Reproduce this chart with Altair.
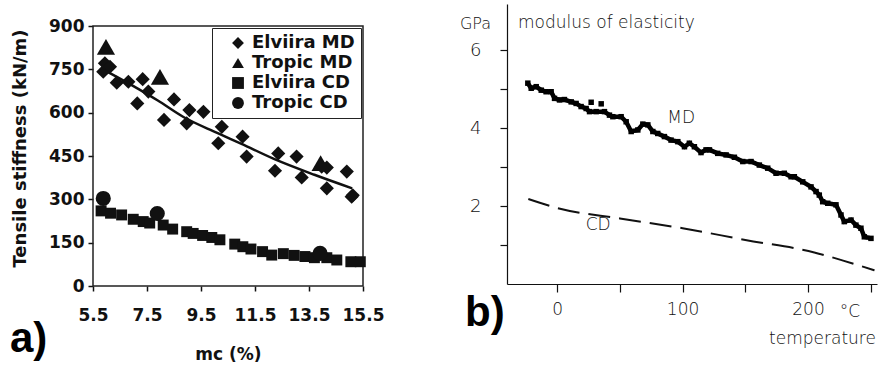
import altair as alt
import pandas as pd

# ---------------- panel a) data ----------------
elv_md_mc = [5.88, 5.94, 6.13, 6.38, 6.81, 7.14, 7.34, 7.55, 8.13, 8.50, 8.97, 9.07, 9.59,
             10.14, 10.27, 11.04, 11.19, 12.24, 12.36, 13.04, 13.23, 13.97, 14.16, 14.16,
             14.90, 15.08, 15.12]
elv_md_k = [742, 771, 759, 704, 707, 632, 716, 673, 575, 646, 563, 609, 603,
            494, 551, 517, 448, 399, 459, 448, 376, 413, 338, 410,
            396, 309, 314]
trop_md_mc = [5.98, 7.98, 13.93]
trop_md_k = [828, 724, 425]
elv_cd_mc = [5.80, 6.15, 6.56, 6.99, 7.36, 7.60, 8.10, 8.45, 8.97, 9.21, 9.56, 9.90, 10.20,
             10.75, 11.05, 11.35, 11.78, 12.12, 12.55, 12.95, 13.35, 13.70, 14.16, 14.53,
             15.05, 15.40]
elv_cd_k = [260, 252, 246, 231, 223, 218, 211, 197, 188, 182, 175, 168, 160,
            145, 136, 128, 119, 107, 112, 106, 102, 98, 98, 90,
            84, 84]
trop_cd_mc = [5.88, 7.88, 13.91]
trop_cd_k = [303, 251, 113]
fit_mc = [5.9, 6.9, 7.9, 8.85, 10.1, 11.0, 12.2, 13.7, 15.1]
fit_k = [748, 697, 642, 585, 530, 492, 440, 385, 338]
series_names = ["Elviira MD", "Tropic MD", "Elviira CD", "Tropic CD"]
series_shapes = ["diamond", "triangle-up", "square", "circle"]
a_xticks = [5.5, 7.5, 9.5, 11.5, 13.5, 15.5]
a_yticks = [0, 150, 300, 450, 600, 750, 900]
a_frame = {"x0": [5.5], "x1": [15.5], "y0": [0], "y1": [900]}

# ---------------- panel b) data ----------------
md_temp = [-23.4, -20.7, -16.7, -12.7, -8.8, -4.8, -2.1, 1.9, 5.8, 11.2, 15.1, 19.1, 23.1,
           25.8, 31.1, 37.7, 41.7, 44.4, 51.0, 55.0, 59.0, 64.3, 68.3, 72.3, 76.3, 80.2,
           85.5, 90.8, 96.2, 101.5, 105.4, 109.4, 114.7, 118.7, 121.4, 128.0, 134.7, 141.3,
           148.0, 154.6, 161.2, 167.9, 174.5, 181.1, 186.5, 189.1, 195.8, 202.4, 206.4,
           209.0, 211.7, 215.7, 222.3, 226.3, 228.9, 234.3, 238.2, 242.2, 244.9, 250.2]
md_gpa = [5.15, 5.02, 5.06, 4.97, 4.93, 4.93, 4.76, 4.72, 4.73, 4.67, 4.63, 4.55, 4.50,
          4.42, 4.42, 4.42, 4.33, 4.29, 4.29, 4.16, 3.91, 3.95, 4.10, 4.08, 3.91, 3.86,
          3.78, 3.69, 3.65, 3.52, 3.61, 3.52, 3.37, 3.44, 3.44, 3.35, 3.31, 3.25,
          3.14, 3.14, 3.05, 2.97, 2.84, 2.84, 2.75, 2.75, 2.62, 2.49, 2.37,
          2.28, 2.11, 2.07, 2.03, 1.77, 1.60, 1.64, 1.51, 1.43, 1.21, 1.17]
md_out_temp = [27.1, 35.1]
md_out_gpa = [4.66, 4.62]
cd_temp = [-23, 0, 50, 100, 150, 205, 228, 253]
cd_gpa = [2.18, 1.95, 1.68, 1.43, 1.13, 0.81, 0.60, 0.35]
b_xticks = [0, 50, 100, 150, 200, 250]
b_yticks = [1, 2, 3, 4, 5, 6]
b_labels = {"t": [98.8, 32.7], "g": [4.26, 1.51], "txt": ["MD", "CD"]}

FA = "DejaVu Sans"
FB = "DejaVu Sans"
WB = 200
INK = "#111111"
GREY = "#111111"

# ---------------- panel a ----------------
xa_scale = alt.Scale(domain=[5.5, 15.5], nice=False, zero=False)
ya_scale = alt.Scale(domain=[0, 976.2], nice=False)
xa_axis = alt.Axis(values=a_xticks, format=".1f", title="mc (%)", grid=False, domain=False,
                   tickColor=INK, tickSize=5, tickWidth=1.5, labelFont=FA, labelFontSize=17,
                   labelFontWeight="bold", labelColor=INK, labelPadding=16,
                   labelOverlap=False, labelBound=False, labelFlush=False,
                   titleFont=FA, titleFontSize=17, titleFontWeight="bold", titleColor=INK,
                   titleY=68, titleBaseline="middle")
ya_axis = alt.Axis(values=a_yticks, title="Tensile stiffness (kN/m)", grid=False, domain=False,
                   tickColor=INK, tickSize=5, tickWidth=1.5, labelFont=FA, labelFontSize=17,
                   labelFontWeight="bold", labelColor=INK, labelPadding=4,
                   labelOverlap=False,
                   titleFont=FA, titleFontSize=18, titleFontWeight="bold", titleColor=INK,
                   titleAngle=270, titleX=-73, titleY=144, titleAlign="center",
                   titleBaseline="middle")


def xa(field="mc"):
    return alt.X(f"{field}:Q", scale=xa_scale, axis=xa_axis)


def ya(field="k"):
    return alt.Y(f"{field}:Q", scale=ya_scale, axis=ya_axis)


shape_scale = alt.Scale(domain=series_names, range=series_shapes)
legend_a = alt.Legend(orient="none", legendX=119, legendY=24, title=None,
                      strokeColor="#222222", fillColor="white", padding=6,
                      symbolOffset=11, symbolSize=140, symbolFillColor=INK,
                      symbolStrokeColor=INK, labelFont=FA, labelFontSize=18,
                      labelFontWeight="bold", labelColor=INK, labelOffset=5,
                      rowPadding=2, labelLimit=400,
                      labelExpr="datum.label + '\u00a0\u00a0\u00a0'")

frame = alt.Chart(pd.DataFrame(a_frame)).mark_rect(
    fill=None, stroke="#222222", strokeWidth=1.5
).encode(x=xa("x0"), x2="x1:Q", y=ya("y0"), y2="y1:Q")

fit = alt.Chart(pd.DataFrame({"mc": fit_mc, "k": fit_k})).mark_line(
    color=INK, strokeWidth=2.5, interpolate="monotone"
).encode(x=xa(), y=ya())


def pts(mcs, ks, name, size):
    df = pd.DataFrame({"mc": mcs, "k": ks, "series": [name] * len(mcs)})
    return alt.Chart(df).mark_point(filled=True, color=INK, opacity=1, size=size).encode(
        x=xa(), y=ya(),
        shape=alt.Shape("series:N", scale=shape_scale, legend=legend_a))


p_emd = pts(elv_md_mc, elv_md_k, "Elviira MD", 200)
p_ecd = pts(elv_cd_mc, elv_cd_k, "Elviira CD", 120)
p_tmd = pts(trop_md_mc, trop_md_k, "Tropic MD", 330)
p_tcd = pts(trop_cd_mc, trop_cd_k, "Tropic CD", 230)

lab_a = alt.Chart(pd.DataFrame({"t": ["a)"]})).mark_text(
    font="Liberation Sans", fontSize=42, fontWeight="bold", color="black",
    align="left", baseline="alphabetic"
).encode(x=alt.value(-83), y=alt.value(348), text="t:N")

panel_a = alt.layer(frame, fit, p_emd, p_ecd, p_tmd, p_tcd, lab_a).properties(
    width=270, height=282)

# ---------------- panel b ----------------
xb_scale = alt.Scale(domain=[-40, 255], nice=False, zero=False)
yb_scale = alt.Scale(domain=[0, 7.18], nice=False)
xb_axis = alt.Axis(values=b_xticks, labelExpr="datum.value % 100 == 0 ? datum.label : ''",
                   title="temperature", grid=False, domainColor=GREY, domainWidth=1.2,
                   tickColor=GREY, tickSize=8, tickWidth=1.2, labelFont=FB,
                   labelFontSize=17, labelFontWeight=WB, labelColor=GREY, labelPadding=9,
                   titleFont=FB, titleFontSize=17, titleFontWeight=WB,
                   titleColor=GREY, titleX=315, titleY=59, titleAlign="center",
                   titleBaseline="alphabetic")
yb_axis = alt.Axis(values=b_yticks, labelExpr="datum.value % 2 == 0 ? datum.label : ''",
                   title="GPa", grid=False, domainColor=GREY, domainWidth=1.2,
                   tickColor=GREY, tickSize=7, tickWidth=1.2, labelFont=FB,
                   labelFontSize=18, labelFontWeight=WB, labelColor=GREY, labelPadding=19,
                   titleFont=FB, titleFontSize=16, titleFontWeight=WB,
                   titleColor=GREY, titleAngle=0, titleX=-32, titleY=24,
                   titleAlign="center", titleBaseline="alphabetic")


def xb(field="t"):
    return alt.X(f"{field}:Q", scale=xb_scale, axis=xb_axis)


def yb(field="g"):
    return alt.Y(f"{field}:Q", scale=yb_scale, axis=yb_axis)


cd_line = alt.Chart(pd.DataFrame({"t": cd_temp, "g": cd_gpa})).mark_line(
    color="#111111", strokeWidth=2, strokeDash=[22, 9], interpolate="monotone"
).encode(x=xb(), y=yb())

md_df = pd.DataFrame({"t": md_temp, "g": md_gpa})
md_line = alt.Chart(md_df).mark_line(color="black", strokeWidth=4.5).encode(x=xb(), y=yb())
md_pts = alt.Chart(md_df).mark_square(color="black", size=30, opacity=1).encode(
    x=xb(), y=yb())
md_out = alt.Chart(pd.DataFrame({"t": md_out_temp, "g": md_out_gpa})).mark_square(
    color="black", size=30, opacity=1).encode(x=xb(), y=yb())

b_txt = alt.Chart(pd.DataFrame(b_labels)).mark_text(
    font=FB, fontSize=17, fontWeight=WB, color=GREY, align="center", baseline="middle"
).encode(x=xb(), y=yb(), text="txt:N")

mod_txt = alt.Chart(pd.DataFrame({"txt": ["modulus of elasticity"]})).mark_text(
    font=FB, fontSize=17, fontWeight=WB, color=GREY, align="left", baseline="alphabetic"
).encode(x=alt.value(11), y=alt.value(24), text="txt:N")
deg_txt = alt.Chart(pd.DataFrame({"txt": ["°C"]})).mark_text(
    font=FB, fontSize=17, fontWeight=WB, color=GREY, align="center", baseline="alphabetic"
).encode(x=alt.value(343), y=alt.value(313), text="txt:N")
lab_b = alt.Chart(pd.DataFrame({"t": ["b)"]})).mark_text(
    font="Liberation Sans", fontSize=42, fontWeight="bold", color="black",
    align="left", baseline="alphabetic"
).encode(x=alt.value(-42), y=alt.value(322), text="t:N")

panel_b = alt.layer(cd_line, md_line, md_pts, md_out, b_txt, mod_txt, deg_txt, lab_b).properties(
    width=370, height=280)

chart = alt.hconcat(
    panel_a, panel_b, spacing=144, bounds="flush",
    padding={"left": 10, "top": 4, "right": 0, "bottom": 0}
).configure_view(stroke=None).properties(background="white")

chart.save("out.html", embed_options={"renderer": "svg", "actions": False})
